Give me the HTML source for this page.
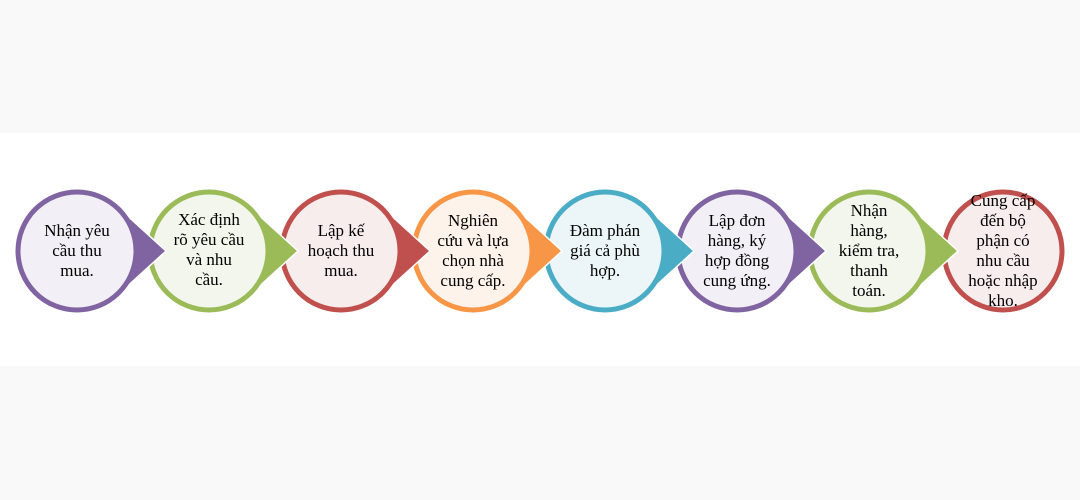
<!DOCTYPE html>
<html><head><meta charset="utf-8"><style>
html,body{margin:0;padding:0;}
body{width:1080px;height:500px;background:#f9f9f9;position:relative;overflow:hidden;font-family:"Liberation Serif",serif;}
.band{position:absolute;left:0;top:133px;width:1080px;height:233px;background:#fff;}
svg{position:absolute;left:0;top:0;}
.t{position:absolute;width:110px;text-align:center;font-size:17px;line-height:20px;color:#000;transform:translate(-50%,-50%);}
</style></head><body>
<div class="band"></div>
<svg width="1080" height="500">
<g stroke="#fff" stroke-width="1.5">
<!-- drawn in reverse so earlier tips overlap later circles -->
<circle cx="1003" cy="251" r="59" fill="#f8eded" stroke="#c0504d" stroke-width="5"/>
<polygon points="958,251 909.4,206.7 909.4,295.3" fill="#9bbb59"/>
<circle cx="869" cy="251" r="59" fill="#f3f6ec" stroke="#9bbb59" stroke-width="5"/>
<polygon points="826,251 777.4,206.7 777.4,295.3" fill="#8064a2"/>
<circle cx="737" cy="251" r="59" fill="#f2eff6" stroke="#8064a2" stroke-width="5"/>
<polygon points="694,251 645.4,206.7 645.4,295.3" fill="#4bacc6"/>
<circle cx="605" cy="251" r="59" fill="#ecf6f9" stroke="#4bacc6" stroke-width="5"/>
<polygon points="562,251 513.4,206.7 513.4,295.3" fill="#f79646"/>
<circle cx="473" cy="251" r="59" fill="#fef3ea" stroke="#f79646" stroke-width="5"/>
<polygon points="430,251 381.4,206.7 381.4,295.3" fill="#c0504d"/>
<circle cx="341" cy="251" r="59" fill="#f8eded" stroke="#c0504d" stroke-width="5"/>
<polygon points="298,251 249.4,206.7 249.4,295.3" fill="#9bbb59"/>
<circle cx="209" cy="251" r="59" fill="#f3f6ec" stroke="#9bbb59" stroke-width="5"/>
<polygon points="166,251 117.4,206.7 117.4,295.3" fill="#8064a2"/>
<circle cx="77" cy="251" r="59" fill="#f2eff6" stroke="#8064a2" stroke-width="5"/>
</g>
</svg>
<div class="t" style="left:77px;top:251px">Nhận yêu<br>cầu thu<br>mua.</div>
<div class="t" style="left:209px;top:250px">Xác định<br>rõ yêu cầu<br>và nhu<br>cầu.</div>
<div class="t" style="left:341px;top:251px">Lập kế<br>hoạch thu<br>mua.</div>
<div class="t" style="left:473px;top:251px">Nghiên<br>cứu và lựa<br>chọn nhà<br>cung cấp.</div>
<div class="t" style="left:605px;top:251px">Đàm phán<br>giá cả phù<br>hợp.</div>
<div class="t" style="left:737px;top:251px">Lập đơn<br>hàng, ký<br>hợp đồng<br>cung ứng.</div>
<div class="t" style="left:869px;top:251px">Nhận<br>hàng,<br>kiểm tra,<br>thanh<br>toán.</div>
<div class="t" style="left:1003px;top:251px">Cung cấp<br>đến bộ<br>phận có<br>nhu cầu<br>hoặc nhập<br>kho.</div>
</body></html>
